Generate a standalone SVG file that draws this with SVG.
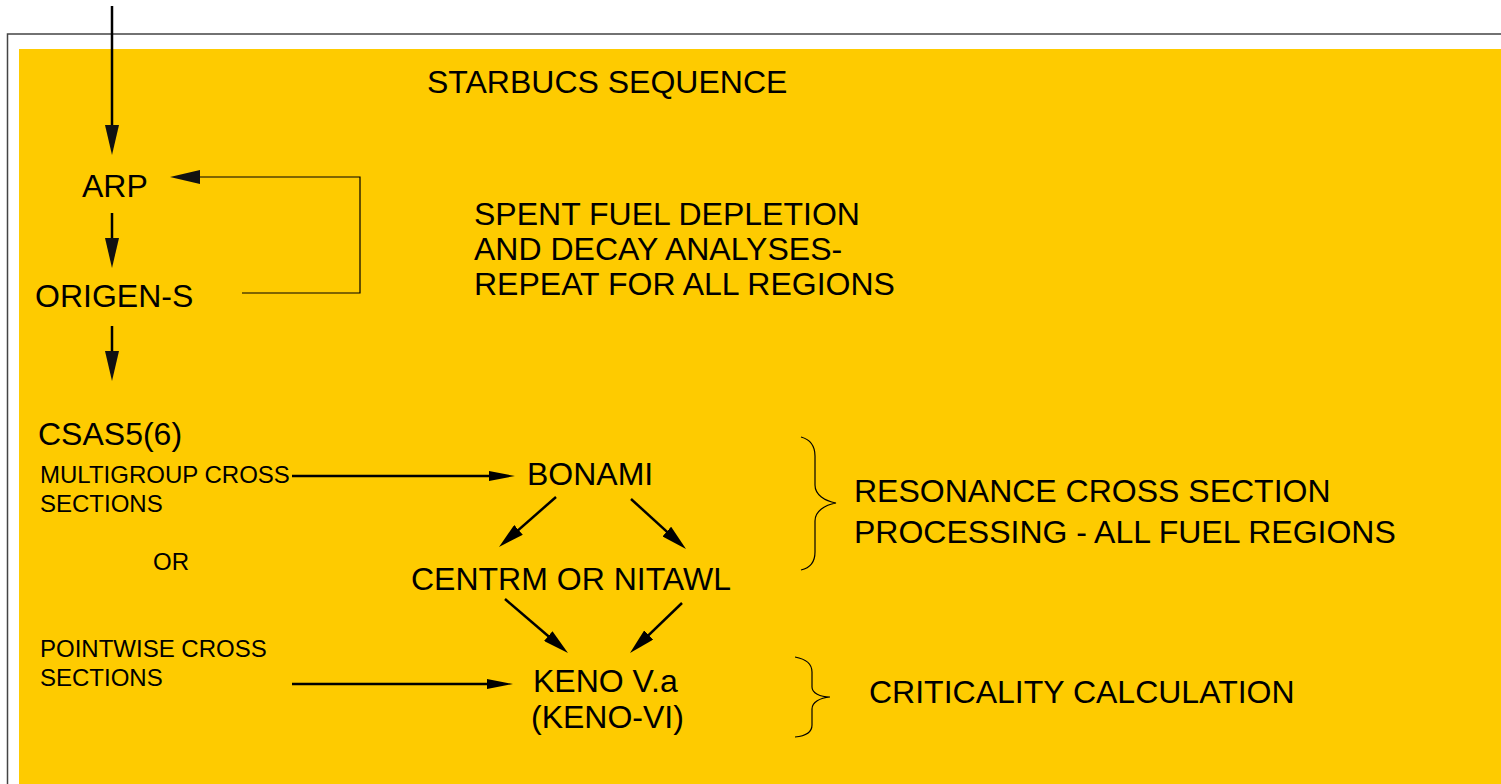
<svg xmlns="http://www.w3.org/2000/svg" width="1501" height="784" viewBox="0 0 1501 784">
<style>
text{font-family:"Liberation Sans",Arial,sans-serif;fill:#000}
.big{font-size:32px}
.sm{font-size:24px}
.ln{stroke:#000;stroke-width:2.5;fill:none}
.thin{stroke:#000;stroke-width:1.2;fill:none}
</style>
<defs>
<marker id="hb" markerUnits="userSpaceOnUse" markerWidth="30" markerHeight="14" refX="20" refY="7" orient="auto" viewBox="0 0 30 14"><path d="M0,0 L30,7 L0,14 z" fill="#111"/></marker>
<marker id="hs" markerUnits="userSpaceOnUse" markerWidth="26" markerHeight="10" refX="16" refY="5" orient="auto" viewBox="0 0 26 10"><path d="M0,0 L26,5 L0,10 z" fill="#000"/></marker>
<marker id="hd" markerUnits="userSpaceOnUse" markerWidth="26" markerHeight="13" refX="16" refY="6.5" orient="auto" viewBox="0 0 26 13"><path d="M0,0 L26,6.5 L0,13 z" fill="#000"/></marker>
</defs>
<rect x="0" y="0" width="1501" height="784" fill="#fff"/>
<rect x="7.5" y="34" width="1500" height="800" fill="#fff" stroke="#444" stroke-width="1.5"/>
<rect x="19" y="49" width="1490" height="740" fill="#FECB00"/>

<g id="connectors">
<line class="ln" x1="112" y1="6" x2="112" y2="145" marker-end="url(#hb)" stroke-width="3"/>
<line class="ln" x1="112" y1="213" x2="112" y2="258" marker-end="url(#hb)"/>
<line class="ln" x1="112" y1="326" x2="112" y2="371" marker-end="url(#hb)"/>
<polyline class="thin" points="242,293 360,293 360,177 180,177" marker-end="url(#hb)"/>
<line class="ln" x1="292" y1="476" x2="505" y2="476" marker-end="url(#hs)"/>
<line class="ln" x1="292" y1="684" x2="503" y2="684" marker-end="url(#hs)"/>
<line class="ln" x1="556" y1="497" x2="506.5" y2="540.4" marker-end="url(#hd)"/>
<line class="ln" x1="631" y1="499" x2="678.6" y2="542.3" marker-end="url(#hd)"/>
<line class="ln" x1="505" y1="599" x2="560.4" y2="646.5" marker-end="url(#hd)"/>
<line class="ln" x1="682" y1="603" x2="637.2" y2="646.1" marker-end="url(#hd)"/>
</g>

<g id="title"><text class="big" x="427" y="93">STARBUCS SEQUENCE</text></g>
<g id="depletion-note">
<text class="big" x="474" y="225">SPENT FUEL DEPLETION</text>
<text class="big" x="474" y="260">AND DECAY ANALYSES-</text>
<text class="big" x="474" y="295">REPEAT FOR ALL REGIONS</text>
</g>
<g id="arp"><text class="big" x="82" y="197">ARP</text></g>
<g id="origen"><text class="big" x="35" y="307">ORIGEN-S</text></g>
<g id="csas"><text class="big" x="38" y="445">CSAS5(6)</text></g>
<g id="multigroup">
<text class="sm" x="40" y="483">MULTIGROUP CROSS</text>
<text class="sm" x="40" y="512">SECTIONS</text>
</g>
<g id="or"><text class="sm" x="153" y="570">OR</text></g>
<g id="pointwise">
<text class="sm" x="40" y="657">POINTWISE CROSS</text>
<text class="sm" x="40" y="686">SECTIONS</text>
</g>
<g id="bonami"><text class="big" x="527" y="485">BONAMI</text></g>
<g id="centrm"><text class="big" x="411" y="590">CENTRM OR NITAWL</text></g>
<g id="keno">
<text class="big" x="533" y="692">KENO V.a</text>
<text class="big" x="531" y="728">(KENO-VI)</text>
</g>
<g id="resonance-brace">
<path class="thin" d="M801,437 C812,440 815,447 815,456 L815,485 C815,495 825,501 836,503 C825,505 815,511 815,521 L815,552 C815,562 810,568 801,570"/>
<text class="big" x="854" y="502">RESONANCE CROSS SECTION</text>
<text class="big" x="854" y="543">PROCESSING - ALL FUEL REGIONS</text>
</g>
<g id="criticality-brace">
<path class="thin" d="M795,657 C806,659 812,664 812,672 L812,687 C812,693 820,697 830,697 C820,698 812,702 812,709 L812,725 C812,732 806,736 795,737"/>
<text class="big" x="869" y="703">CRITICALITY CALCULATION</text>
</g>
</svg>
